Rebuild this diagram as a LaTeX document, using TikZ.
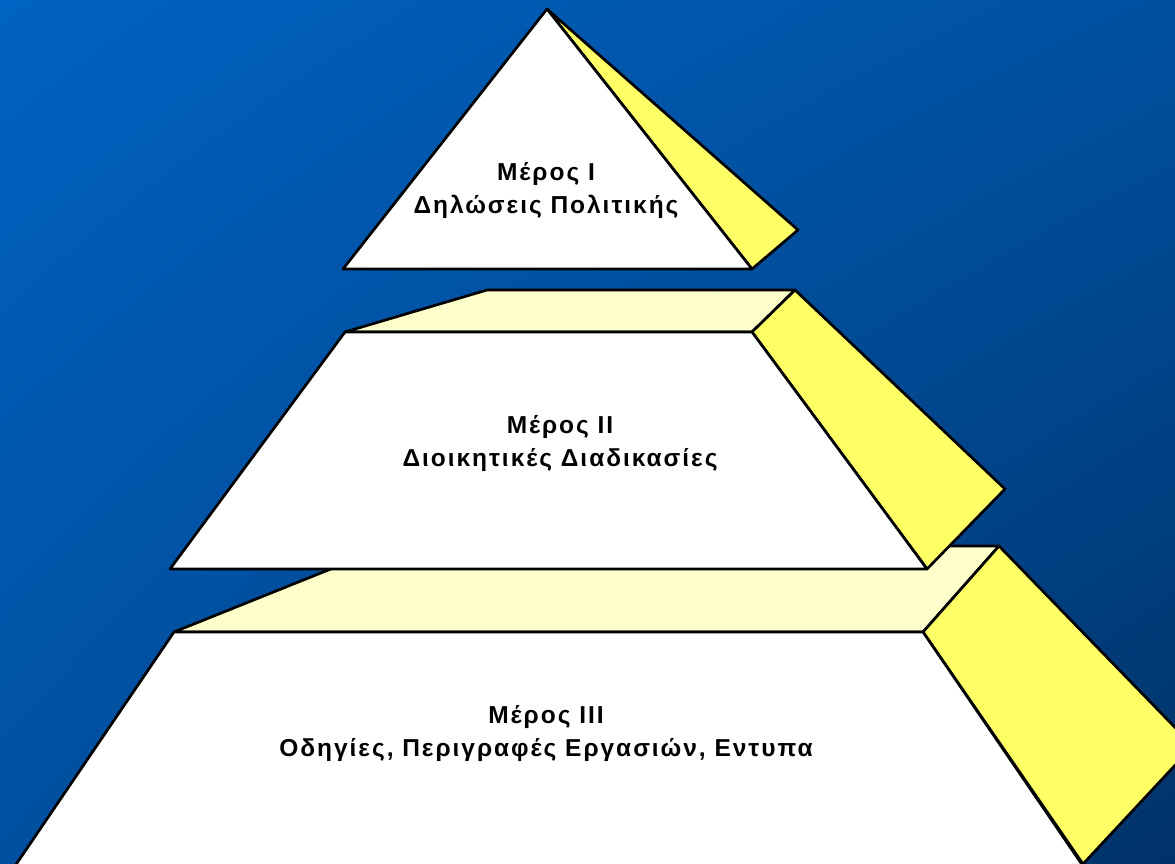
\documentclass[tikz,border=0pt]{standalone}
\usepackage{fontspec}
\setmainfont{Liberation Sans}[LetterSpace=8]
\usetikzlibrary{shadings}
\begin{document}
\begin{tikzpicture}[x=1pt,y=-1pt,
  face/.style={draw=black,line width=2.7pt,line join=round},
  front/.style={face,fill=white},
  topface/.style={face,fill=lightyel},
  sideface/.style={face,fill=sideyel},
  lbl/.style={align=center,font=\fontsize{24.5}{33}\selectfont\bfseries,text=black,inner sep=0pt}]
\definecolor{lightyel}{RGB}{255,255,204}
\definecolor{sideyel}{RGB}{255,255,102}
\definecolor{bgA}{RGB}{0,98,194}
\definecolor{bgB}{RGB}{0,80,160}
\definecolor{bgC}{RGB}{0,50,104}
\useasboundingbox (0,0) rectangle (1175,864);
\shade[upper left=bgA,upper right=bgB,lower left=bgB,lower right=bgC] (0,0) rectangle (1175,864);
\begin{scope}
\clip (0,0) rectangle (1175,864);
% bottom level
\draw[topface] (174,632) -- (388,546) -- (999,546) -- (923,632) -- cycle;
\draw[sideface] (923,632) -- (999,546) -- (1193,746) -- (1083,864) -- cycle;
\draw[front] (174,632) -- (923,632) -- (1083,866) -- (15,866) -- cycle;
% middle level
\draw[topface] (345,332) -- (487,290) -- (795,290) -- (752,332) -- cycle;
\draw[sideface] (752,332) -- (795,290) -- (1005,489) -- (927,569) -- cycle;
\draw[front] (345,332) -- (752,332) -- (927,569) -- (170,569) -- cycle;
% top level
\draw[sideface] (547,9) -- (798,230) -- (752,269) -- cycle;
\draw[front] (547,9) -- (752,269) -- (343,269) -- cycle;
\end{scope}
\node[lbl,anchor=base] (t1) at (546,213) {Μέρος I\\Δηλώσεις Πολιτικής};
\node[lbl,anchor=base] (t2) at (560,466) {Μέρος II\\Διοικητικές Διαδικασίες};
\node[lbl,anchor=base] (t3) at (546,756) {Μέρος III\\Οδηγίες, Περιγραφές Εργασιών, Εντυπα};
\end{tikzpicture}
\end{document}
